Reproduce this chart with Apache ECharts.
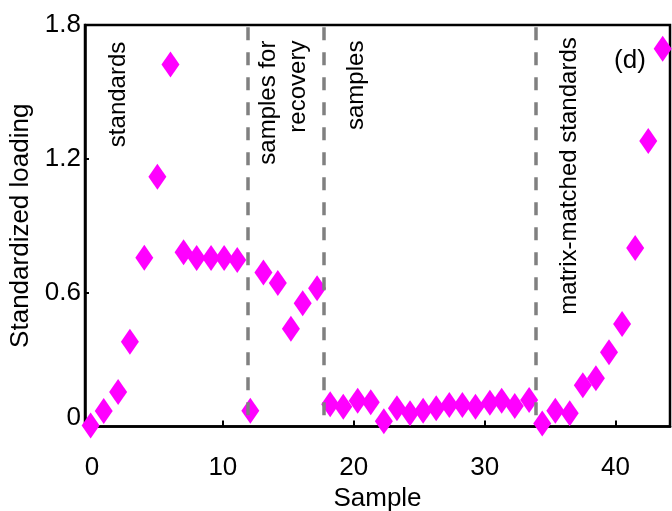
<!DOCTYPE html>
<html>
<head>
<meta charset="utf-8">
<script src="https://cdn.jsdelivr.net/npm/echarts@6/dist/echarts.min.js"></script>
<style>
  html, body { margin: 0; padding: 0; background: #fff; }
  #chart { width: 672px; height: 511px; }
</style>
</head>
<body>
<div id="chart"></div>
<script>
// Sample position along the run (x) and standardized loading (y)
const sampleX = [
  -0.1, 0.9, 2.0, 2.9, 4.0, 5.0, 6.0, 7.0, 8.0, 9.1, 10.1, 11.1,
  12.1, 13.1, 14.2, 15.2, 16.1, 17.2,
  18.2, 19.2, 20.3, 21.3, 22.3, 23.3, 24.3, 25.3, 26.3, 27.3, 28.3, 29.3, 30.4, 31.3, 32.3, 33.4,
  34.4, 35.4, 36.5, 37.5, 38.5, 39.5, 40.5, 41.5, 42.5, 43.6
];
const loading = [
  0.005, 0.07, 0.155, 0.38, 0.757, 1.12, 1.623, 0.781, 0.755, 0.755, 0.755, 0.747,
  0.071, 0.69, 0.643, 0.438, 0.553, 0.62,
  0.10, 0.089, 0.116, 0.109, 0.024, 0.082, 0.059, 0.071, 0.082, 0.096, 0.096, 0.089, 0.107, 0.116, 0.092, 0.119,
  0.014, 0.071, 0.059, 0.185, 0.216, 0.333, 0.46, 0.80, 1.28, 1.693
];
// Group boundaries (dashed separators)
const dividers = [11.9, 17.7, 33.9];
// Axis ticks
const xTicks = [0, 10, 20, 30, 40];
const yTicks = [0, 0.6, 1.2, 1.8];

const points = sampleX.map((x, i) => [x, loading[i]]);

const FONT = 'Liberation Sans, Arial, sans-serif';
const chart = echarts.init(document.getElementById('chart'));

const option = {
  animation: false,
  grid: {
    left: 85, right: 2, top: 25, bottom: 84.5,
    outerBoundsMode: 'none',
    containLabel: false,
    show: true, borderColor: '#000', borderWidth: 2.5, backgroundColor: 'transparent'
  },
  xAxis: {
    type: 'value',
    min: -0.53, max: 44.16,
    name: 'Sample',
    nameLocation: 'middle',
    nameGap: 52,
    nameTextStyle: { fontFamily: FONT, fontSize: 26, color: '#000' },
    axisLine: { show: true, onZero: false, lineStyle: { color: '#000', width: 2.5 } },
    axisTick: { show: true, inside: true, length: 6, customValues: xTicks, lineStyle: { color: '#000', width: 2 } },
    axisLabel: { customValues: xTicks, margin: 28, fontFamily: FONT, fontSize: 26, color: '#000' },
    splitLine: { show: false }
  },
  yAxis: {
    type: 'value',
    min: 0, max: 1.8, interval: 0.6,
    name: 'Standardized loading',
    nameLocation: 'middle',
    nameGap: 50,
    nameTextStyle: { fontFamily: FONT, fontSize: 26, color: '#000' },
    axisLine: { show: true, onZero: false, lineStyle: { color: '#000', width: 2.5 } },
    axisTick: { show: true, inside: true, length: 4, lineStyle: { color: '#000', width: 2 } },
    axisLabel: {
      margin: 4, fontFamily: FONT, fontSize: 26, color: '#000',
      customValues: yTicks,
      formatter: v => v === 0 ? '{z|0}' : String(Math.round(v * 10) / 10),
      rich: { z: { fontFamily: FONT, fontSize: 26, color: '#000', padding: [0, 0, 18, 0] } }
    },
    splitLine: { show: false }
  },
  series: [{
    type: 'scatter',
    data: points,
    symbol: 'diamond',
    symbolSize: [18, 26],
    clip: false,
    itemStyle: { color: '#FF00FF', opacity: 1 },
    markLine: {
      silent: true,
      symbol: 'none',
      label: { show: false },
      lineStyle: { color: '#808080', width: 3.5, type: [13, 12] },
      data: dividers.map(d => [{ coord: [d, 1.79] }, { coord: [d, 0.02] }])
    }
  }]
};
chart.setOption(option);

// Section labels, written vertically (bottom to top), ends aligned at the top
const sections = [
  { text: 'standards', x: 2.05, y: 1.725 },
  { text: 'samples for\nrecovery', x: 14.6, y: 1.73 },
  { text: 'samples', x: 20.2, y: 1.73 },
  { text: 'matrix-matched standards', x: 36.5, y: 1.745 }
];
const graphics = sections.map(s => {
  const p = chart.convertToPixel({ gridIndex: 0 }, [s.x, s.y]);
  return {
    type: 'text',
    x: p[0], y: p[1],
    rotation: Math.PI / 2,
    style: {
      text: s.text,
      font: '24px ' + FONT,
      fill: '#000',
      align: 'right',
      verticalAlign: 'middle',
      lineHeight: 30
    }
  };
});
const dPos = chart.convertToPixel({ gridIndex: 0 }, [41.1, 1.64]);
graphics.push({
  type: 'text',
  x: dPos[0], y: dPos[1],
  style: { text: '(d)', font: '26px ' + FONT, fill: '#000', align: 'center', verticalAlign: 'middle' }
});
chart.setOption({ graphic: graphics });
</script>
</body>
</html>
